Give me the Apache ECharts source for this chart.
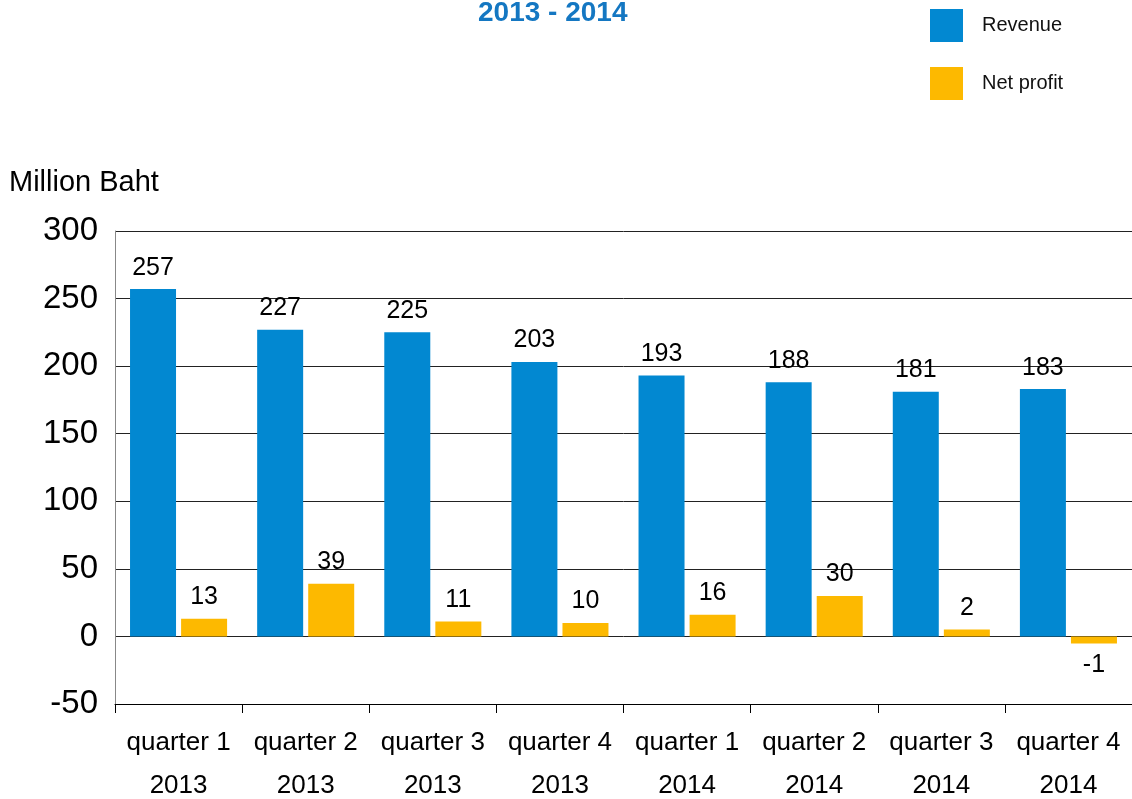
<!DOCTYPE html>
<html lang="en">
<head>
    <meta charset="UTF-8">
    <title>Revenue and net profit 2013 - 2014</title>
    <script type="text/javascript" src="https://cdn.jsdelivr.net/npm/echarts@6/dist/echarts.min.js"></script>
    <style>
        html, body { margin: 0; padding: 0; background: #fff; }
    </style>
</head>
<body>
<div id="chart" style="width:1132px; height:799px;"></div>
<script>
    var quarters = ['quarter 1', 'quarter 2', 'quarter 3', 'quarter 4', 'quarter 1', 'quarter 2', 'quarter 3', 'quarter 4'];
    var years = ['2013', '2013', '2013', '2013', '2014', '2014', '2014', '2014'];
    var revenue = [257, 227, 225, 203, 193, 188, 181, 183];
    var netProfit = [13, 39, 11, 10, 16, 30, 2, -1];

    var categories = [];
    for (var i = 0; i < quarters.length; i++) {
        categories.push(quarters[i] + '\n' + years[i]);
    }

    // negative values get their label under the bar
    var profitData = [];
    for (var i = 0; i < netProfit.length; i++) {
        var item = { value: netProfit[i] };
        if (netProfit[i] < 0) {
            item.label = { position: 'bottom' };
        }
        profitData.push(item);
    }

    var font = 'Liberation Sans, Arial, sans-serif';
    var chart = echarts.init(document.getElementById('chart'));

    var option = {
        animation: false,
        textStyle: { fontFamily: font },
        title: [{
            text: '2013 - 2014',
            left: 478,
            top: -1,
            padding: 0,
            textStyle: { fontSize: 28, fontWeight: 'bold', color: '#1477c2', fontFamily: font }
        }, {
            text: 'Million Baht',
            left: 9,
            top: 168,
            padding: 0,
            textStyle: { fontSize: 29, fontWeight: 'normal', color: '#000', fontFamily: font }
        }],
        legend: {
            orient: 'vertical',
            left: 930,
            top: 9,
            padding: 0,
            itemWidth: 33,
            itemHeight: 33,
            itemGap: 25,
            icon: 'rect',
            textStyle: { fontSize: 20, color: '#111', padding: [0, 0, 0, 14], fontFamily: font },
            data: ['Revenue', 'Net profit']
        },
        grid: {
            left: 115,
            right: 0,
            top: 231,
            bottom: 95,
            outerBoundsMode: 'none'
        },
        xAxis: {
            type: 'category',
            data: categories,
            axisLine: { onZero: false, lineStyle: { color: '#000', width: 1 } },
            axisTick: { show: true, interval: 0, alignWithLabel: false, length: 9, lineStyle: { color: '#000' } },
            axisLabel: { interval: 0, hideOverlap: false, fontSize: 26, lineHeight: 43, margin: 17, color: '#000', fontFamily: font }
        },
        yAxis: {
            type: 'value',
            min: -50,
            max: 300,
            interval: 50,
            axisLine: { show: true, lineStyle: { color: '#888' } },
            axisTick: { show: false },
            axisLabel: { fontSize: 33, margin: 17, color: '#000', fontFamily: font },
            splitLine: { show: true, lineStyle: { color: '#222', width: 1 } }
        },
        series: [{
            name: 'Revenue',
            type: 'bar',
            data: revenue,
            barWidth: 46,
            barGap: '11%',
            barMinHeight: 7,
            itemStyle: { color: '#0288d1' },
            label: { show: true, position: 'top', distance: 9, fontSize: 25, color: '#000', fontFamily: font }
        }, {
            name: 'Net profit',
            type: 'bar',
            data: profitData,
            barWidth: 46,
            barGap: '11%',
            barMinHeight: 7,
            itemStyle: { color: '#fdb900' },
            label: { show: true, position: 'top', distance: 9, fontSize: 25, color: '#000', fontFamily: font }
        }]
    };

    chart.setOption(option);
</script>
</body>
</html>
